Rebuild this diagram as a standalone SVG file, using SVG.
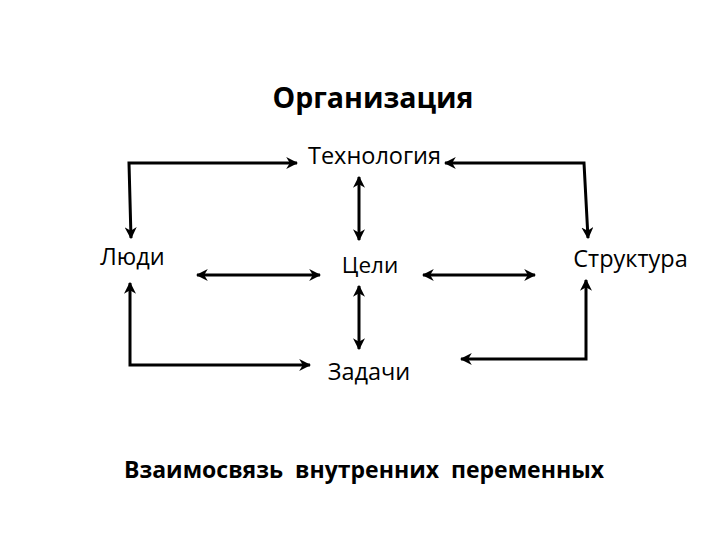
<svg xmlns="http://www.w3.org/2000/svg" width="720" height="540" viewBox="0 0 720 540">
<style>
text{font-family:"Open Sans","Liberation Sans",sans-serif;fill:#000}
.t{font-size:23.5px}
.b{font-weight:bold}
.c{fill:none;stroke:#000;stroke-width:3}
</style>
<defs>
<marker id="ah" viewBox="0 0 10 10" refX="9" refY="5" markerWidth="4" markerHeight="4" orient="auto-start-reverse" markerUnits="strokeWidth">
<path d="M0,0 L10,5 L0,10 L3,5 Z" fill="#000"/>
</marker>
</defs>
<rect width="720" height="540" fill="#fff"/>
<text x="373" y="108" text-anchor="middle" class="b" style="font-size:28.5px">Организация</text>
<g id="n-tech"><text x="374.5" y="164" text-anchor="middle" class="t">Технология</text></g>
<g id="n-people"><text x="132.5" y="265" text-anchor="middle" class="t">Люди</text></g>
<g id="n-goals"><text x="370" y="273" text-anchor="middle" class="t" style="font-size:22.5px">Цели</text></g>
<g id="n-struct"><text x="630.5" y="267" text-anchor="middle" class="t">Структура</text></g>
<g id="n-tasks"><text x="369" y="380" text-anchor="middle" class="t">Задачи</text></g>
<g id="connectors">
<path class="c" d="M131,238 L129,163 L297,163" marker-start="url(#ah)" marker-end="url(#ah)"/>
<path class="c" d="M445,163 L584,163 L588,238" marker-start="url(#ah)" marker-end="url(#ah)"/>
<path class="c" d="M359,177 L359,240" marker-start="url(#ah)" marker-end="url(#ah)"/>
<path class="c" d="M197,275 L320,275" marker-start="url(#ah)" marker-end="url(#ah)"/>
<path class="c" d="M423,275 L535,275" marker-start="url(#ah)" marker-end="url(#ah)"/>
<path class="c" d="M130,283 L130,365 L310,365" marker-start="url(#ah)" marker-end="url(#ah)"/>
<path class="c" d="M359,286 L359,349" marker-start="url(#ah)" marker-end="url(#ah)"/>
<path class="c" d="M586,280 L586,359 L461,359" marker-start="url(#ah)" marker-end="url(#ah)"/>
</g>
<text x="364" y="478" text-anchor="middle" class="b" style="font-size:23px" xml:space="preserve">Взаимосвязь  внутренних  переменных</text>
</svg>
